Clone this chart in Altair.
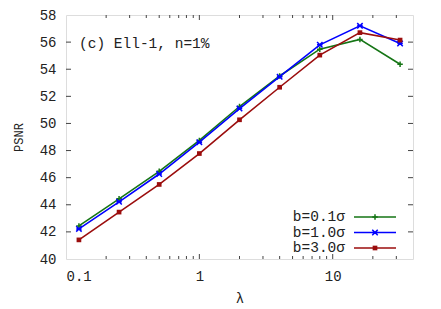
import altair as alt
import pandas as pd

# ---- data ----
lam = [0.125, 0.25, 0.5, 1, 2, 4, 8, 16, 32]
psnr_b01 = [42.44, 44.44, 46.47, 48.75, 51.25, 53.5, 55.48, 56.2, 54.37]
psnr_b10 = [42.22, 44.22, 46.27, 48.62, 51.1, 53.45, 55.8, 57.2, 55.9]
psnr_b30 = [41.41, 43.46, 45.5, 47.78, 50.27, 52.67, 55.04, 56.7, 56.15]
series = ["b=0.1σ", "b=1.0σ", "b=3.0σ"]
colors = ["#157515", "#0000ff", "#9b0d0d"]
x_label_values = [0.1, 1, 10]
x_major_ticks = [1, 10]
x_minor_ticks = [0.2, 0.3, 0.4, 0.5, 0.6, 0.7, 0.8, 0.9,
                 2, 3, 4, 5, 6, 7, 8, 9, 20, 30]
y_ticks = [42, 44, 46, 48, 50, 52, 54, 56]
annotation = "(c) Ell-1, n=1%"

W, H = 347, 244
FONT = "Liberation Mono"

rows = []
for name, vals in zip(series, [psnr_b01, psnr_b10, psnr_b30]):
    for l, v in zip(lam, vals):
        rows.append({"lam": l, "psnr": v, "series": name})
df = pd.DataFrame(rows)

xs = alt.Scale(type="log", domain=[0.1, 40], nice=False)
ys = alt.Scale(domain=[40, 58], nice=False, zero=False)
cs = alt.Scale(domain=series, range=colors)

base = alt.Chart(df)

lines = base.mark_line(strokeWidth=1.6, clip=True).encode(
    x=alt.X("lam:Q", scale=xs, title="λ",
            axis=alt.Axis(values=x_label_values, format="~g", ticks=False, tickSize=0,
                          domain=False, grid=False, labelPadding=10, titlePadding=8,
                          labelFont=FONT, labelFontSize=14, labelColor="#222",
                          titleFont=FONT, titleFontSize=14, titleFontWeight="normal",
                          titleColor="#222")),
    y=alt.Y("psnr:Q", scale=ys, title="PSNR",
            axis=alt.Axis(values=y_ticks + [40, 58], ticks=False, tickSize=0, domain=False,
                          grid=False, labelPadding=10, titlePadding=14,
                          labelFont=FONT, labelFontSize=14, labelColor="#222",
                          titleFont=FONT, titleFontSize=12, titleFontWeight="normal",
                          titleColor="#222")),
    color=alt.Color("series:N", scale=cs, legend=None),
    detail="series:N",
)

plus_path = "M-1,0L1,0M0,-1L0,1"
x_path = "M-1,-1L1,1M-1,1L1,-1M-1,0L1,0"

def pts(name, color, shape, filled, size):
    return base.transform_filter(alt.datum.series == name).mark_point(
        shape=shape, filled=filled, color=color, size=size, strokeWidth=1.5, opacity=1
    ).encode(
        x=alt.X("lam:Q", scale=xs),
        y=alt.Y("psnr:Q", scale=ys, axis=None),
    )

p1 = pts(series[0], colors[0], plus_path, False, 30)
p2 = pts(series[1], colors[1], x_path, False, 30)
p3 = pts(series[2], colors[2], "square", True, 22)

# ---- inward ticks on all four sides ----
tick_color = "#444"
xmaj = pd.DataFrame({"v": x_major_ticks})
xmin = pd.DataFrame({"v": x_minor_ticks})
ytk = pd.DataFrame({"v": y_ticks})

def xt(d, L, bottom=True):
    if bottom:
        yy, yy2 = alt.value(H), alt.value(H - L)
    else:
        yy, yy2 = alt.value(0), alt.value(L)
    return alt.Chart(d).mark_rule(color=tick_color, strokeWidth=1).encode(
        x=alt.X("v:Q", scale=xs), y=yy, y2=yy2)

def yt(L, left=True):
    if left:
        xx, xx2 = alt.value(0), alt.value(L)
    else:
        xx, xx2 = alt.value(W), alt.value(W - L)
    return alt.Chart(ytk).mark_rule(color=tick_color, strokeWidth=1).encode(
        y=alt.Y("v:Q", scale=ys, axis=None), x=xx, x2=xx2)

ticks = [xt(xmaj, 5, True), xt(xmaj, 5, False), xt(xmin, 3, True), xt(xmin, 3, False),
         yt(5, True), yt(5, False)]

# ---- annotation ----
ann = alt.Chart(pd.DataFrame({"t": [annotation]})).mark_text(
    align="left", baseline="middle", font=FONT, fontSize=14.5, color="#222"
).encode(x=alt.value(13), y=alt.value(28.5), text="t:N")

# ---- manual legend (labels left of samples) ----
leg_df = pd.DataFrame({"series": series})
ly = alt.Y("series:N", scale=alt.Scale(type="point", domain=series, range=[202, 233], padding=0),
           axis=None)
leg_text = alt.Chart(leg_df).mark_text(
    align="right", baseline="middle", font=FONT, fontSize=14.5, color="#222"
).encode(x=alt.value(279), y=ly, text="series:N")
leg_line = alt.Chart(leg_df).mark_rule(strokeWidth=1.6).encode(
    x=alt.value(288), x2=alt.value(330), y=ly,
    color=alt.Color("series:N", scale=cs, legend=None))

def leg_pt(name, color, shape, filled, size):
    return alt.Chart(leg_df).transform_filter(alt.datum.series == name).mark_point(
        shape=shape, filled=filled, color=color, size=size, strokeWidth=1.5, opacity=1
    ).encode(x=alt.value(309), y=ly)

lp = [leg_pt(series[0], colors[0], plus_path, False, 30),
      leg_pt(series[1], colors[1], x_path, False, 30),
      leg_pt(series[2], colors[2], "square", True, 22)]

chart = alt.layer(
    *ticks, lines, p1, p2, p3, ann, leg_line, *lp, leg_text
).resolve_scale(y="independent").properties(
    width=W, height=H,
    autosize=alt.AutoSizeParams(type="none"),
    padding={"left": 58, "top": 7, "right": 20, "bottom": 48},
).configure_view(stroke="black", strokeWidth=1).configure(background="white")

chart.save("out.html", embed_options={"renderer": "svg", "actions": False})
